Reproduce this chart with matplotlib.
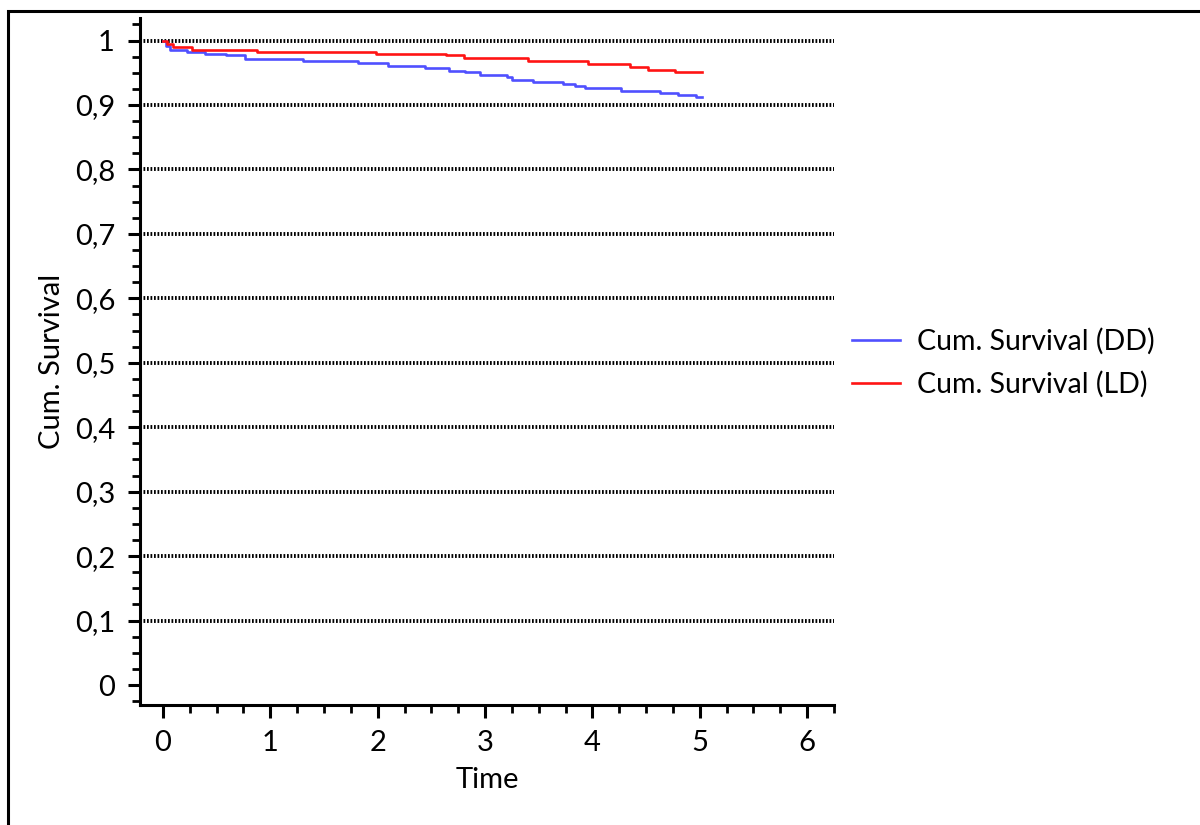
import matplotlib
matplotlib.use("Agg")
import matplotlib.pyplot as plt
from matplotlib.patches import Rectangle
from matplotlib.ticker import MultipleLocator, FixedLocator

plt.rcParams['font.family'] = ['Lato', 'DejaVu Sans']

# Kaplan-Meier step estimates (time in years, cumulative survival)
time_dd = [0.0, 0.03, 0.07, 0.22, 0.39, 0.59, 0.76, 1.30, 1.82, 2.10, 2.44,
           2.66, 2.81, 2.95, 3.20, 3.25, 3.45, 3.73, 3.84, 3.93, 4.27, 4.63,
           4.80, 4.96, 5.02]
surv_dd = [1.0, 0.992, 0.986, 0.982, 0.979, 0.977, 0.9716, 0.968, 0.965, 0.961,
           0.9575, 0.9535, 0.951, 0.947, 0.943, 0.9395, 0.936, 0.933, 0.929,
           0.926, 0.9225, 0.919, 0.915, 0.912, 0.912]

time_ld = [0.0, 0.04, 0.09, 0.27, 0.88, 1.98, 2.64, 2.80, 3.40, 3.96, 4.35,
           4.52, 4.77, 5.02]
surv_ld = [1.0, 0.994, 0.9896, 0.9855, 0.982, 0.979, 0.977, 0.973, 0.9686,
           0.963, 0.9587, 0.9545, 0.951, 0.951]

x_ticks = [0, 1, 2, 3, 4, 5, 6]
x_labels = ['0', '1', '2', '3', '4', '5', '6']
y_ticks = [0, 0.1, 0.2, 0.3, 0.4, 0.5, 0.6, 0.7, 0.8, 0.9, 1.0]
y_labels = ['0', '0,1', '0,2', '0,3', '0,4', '0,5', '0,6', '0,7', '0,8', '0,9', '1']
grid_levels = [0.1, 0.2, 0.3, 0.4, 0.5, 0.6, 0.7, 0.8, 0.9, 1.0]

fig = plt.figure(figsize=(12, 8.25), dpi=100)
ax = fig.add_axes([140 / 1200, 1 - 705 / 825, (834 - 140) / 1200, (705 - 18) / 825])

# outer frame (top and left edges visible)
fig.patches.append(Rectangle((8 / 1200, -0.2), 1.2, 1.2 - 11 / 825,
                             transform=fig.transFigure, fill=False,
                             edgecolor='black', linewidth=2.2, zorder=0))

ax.set_xlim(-0.214, 6.25)
ax.set_ylim(-0.031, 1.035)

for g in grid_levels:
    ax.axhline(g, color='black', linewidth=2.8, linestyle=(0, (0.45, 0.45)), zorder=1)

ax.step(time_dd, surv_dd, where='post', color='#5050ff', linewidth=1.9,
        label='Cum. Survival (DD)', zorder=3)
ax.step(time_ld, surv_ld, where='post', color='#ff1414', linewidth=1.9,
        label='Cum. Survival (LD)', zorder=3)

for s in ('top', 'right'):
    ax.spines[s].set_visible(False)
for s in ('left', 'bottom'):
    ax.spines[s].set_linewidth(2.2)

ax.xaxis.set_major_locator(FixedLocator(x_ticks))
ax.set_xticklabels(x_labels)
ax.xaxis.set_minor_locator(MultipleLocator(0.25))
ax.yaxis.set_major_locator(FixedLocator(y_ticks))
ax.set_yticklabels(y_labels)
ax.yaxis.set_minor_locator(MultipleLocator(0.025))

ax.tick_params(axis='both', which='major', direction='out', length=9, width=2.2,
               labelsize=21, pad=9)
ax.tick_params(axis='both', which='minor', direction='out', length=6, width=2.0)

ax.set_xlabel('Time', fontsize=21, labelpad=8)
ax.set_ylabel('Cum. Survival', fontsize=21, labelpad=7)

ax.legend(loc='center left', bbox_to_anchor=(826 / 1200, 1 - 363 / 825),
          bbox_transform=fig.transFigure, frameon=False, fontsize=20.5,
          handlelength=1.7, handletextpad=0.6, labelspacing=0.55)

fig.savefig('out.png', dpi=100)
